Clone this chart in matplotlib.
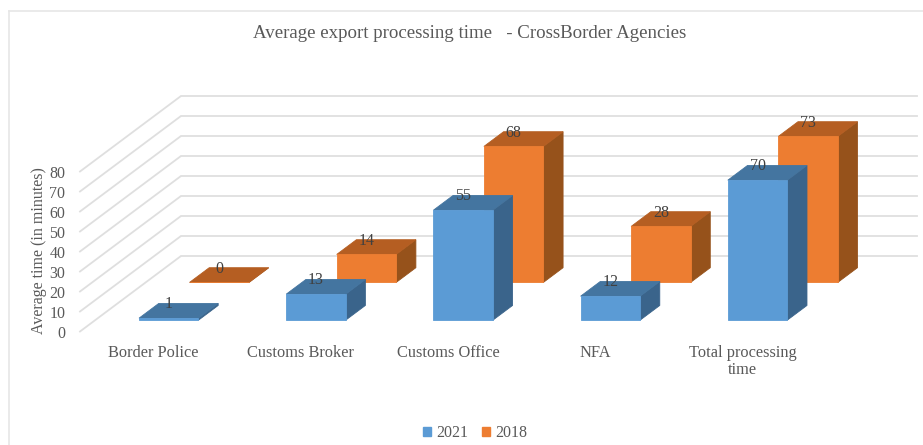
import matplotlib
matplotlib.use("Agg")
from matplotlib import pyplot as plt
from matplotlib.patches import Polygon, Rectangle

plt.rcParams['font.family'] = ['Liberation Serif', 'DejaVu Serif']

categories = ['Border Police', 'Customs Broker', 'Customs Office', 'NFA', 'Total processing\ntime']
values_2021 = [1, 13, 55, 12, 70]
values_2018 = [0, 14, 68, 28, 73]
y_ticks = [0, 10, 20, 30, 40, 50, 60, 70, 80]

W, H = 923, 445
TEXT = '#595959'
LABEL = '#404040'
GRID = '#dfdfdf'

# face colours: front, top, side
BLUE = ('#5b9bd5', '#4475a0', '#3a648b')
ORANGE = ('#ed7d31', '#b55e22', '#96521b')

# oblique projection: one unit of depth moves a point right and up in data units
DEPTH_X = 101 / 147.2
DEPTH_Y = 75.5 / 2.0
BAR_W = 0.404
BAR_D = 0.195


def project(x, v, d):
    return x + d * DEPTH_X, v + d * DEPTH_Y


def draw_bar(ax, x, value, d, colors):
    x0 = x - BAR_W / 2
    x1 = x + BAR_W / 2
    d1 = d + BAR_D
    front = [project(x0, 0, d), project(x1, 0, d), project(x1, value, d), project(x0, value, d)]
    top = [project(x0, value, d), project(x1, value, d), project(x1, value, d1), project(x0, value, d1)]
    side = [project(x1, 0, d), project(x1, 0, d1), project(x1, value, d1), project(x1, value, d)]
    for pts, col in [(side, colors[2]), (top, colors[1]), (front, colors[0])]:
        ax.add_patch(Polygon(pts, closed=True, facecolor=col, edgecolor=col, lw=0.6,
                             clip_on=False, zorder=3))
    # value sits above the centre of the front face
    ax.annotate(str(value), project(x, value, d), xytext=(0, 10), textcoords='offset points',
                ha='center', va='center', fontsize=11.5, color=LABEL, zorder=10,
                annotation_clip=False)


fig = plt.figure(figsize=(W / 100, H / 100), dpi=100)

# chart frame, only the top and left edges show
fig.add_artist(plt.Line2D([8.5 / W, 8.5 / W], [0, 1 - 10.5 / H], color='#e6e6e6', lw=1.2))
fig.add_artist(plt.Line2D([8.5 / W, 1], [1 - 10.5 / H, 1 - 10.5 / H], color='#e6e6e6', lw=1.2))

# front plane of the plot box
ax = fig.add_axes([80 / W, 1 - 331.5 / H, 736 / W, 160 / H])
ax.set_xlim(0, len(categories))
ax.set_ylim(0, 80)
ax.patch.set_visible(False)
for s in ax.spines.values():
    s.set_visible(False)

for t in y_ticks:
    x_b, v_b = project(0, t, 1)
    x_e, _ = project(len(categories), t, 1)
    ax.plot([0, x_b, x_e], [t, v_b, v_b], color=GRID, lw=1.3,
            clip_on=False, zorder=1, solid_joinstyle='miter')

centers = [i + 0.5 for i in range(len(categories))]
for x, v in zip(centers, values_2018):
    draw_bar(ax, x, v, 0.65, ORANGE)
for x, v in zip(centers, values_2021):
    draw_bar(ax, x, v, 0.15, BLUE)

ax.set_yticks(y_ticks)
ax.set_xticks(centers)
ax.set_xticklabels(categories, linespacing=1.05)
ax.tick_params(axis='y', length=0, pad=10.5, labelsize=11.5, labelcolor=TEXT)
ax.tick_params(axis='x', length=0, pad=10, labelsize=11.8, labelcolor=TEXT)

fig.text(39 / W, 1 - 251 / H, 'Average time (in minutes)', rotation=90, ha='center', va='center',
         fontsize=11.5, color=TEXT)
fig.text(470 / W, 1 - 33.5 / H, 'Average export processing time   - CrossBorder Agencies', ha='center',
         va='center', fontsize=13.55, color=TEXT)

# legend
handles = [Rectangle((0, 0), 1, 1, color=BLUE[0]), Rectangle((0, 0), 1, 1, color=ORANGE[0])]
fig.legend(handles, ['2021', '2018'], loc='center', bbox_to_anchor=(475 / W, 1 - 433 / H), ncol=2,
           frameon=False, fontsize=11.5, labelcolor=TEXT, handlelength=0.5, handleheight=0.5,
           handletextpad=0.3, columnspacing=0.9, borderpad=0)

fig.savefig('out.png', dpi=100)
